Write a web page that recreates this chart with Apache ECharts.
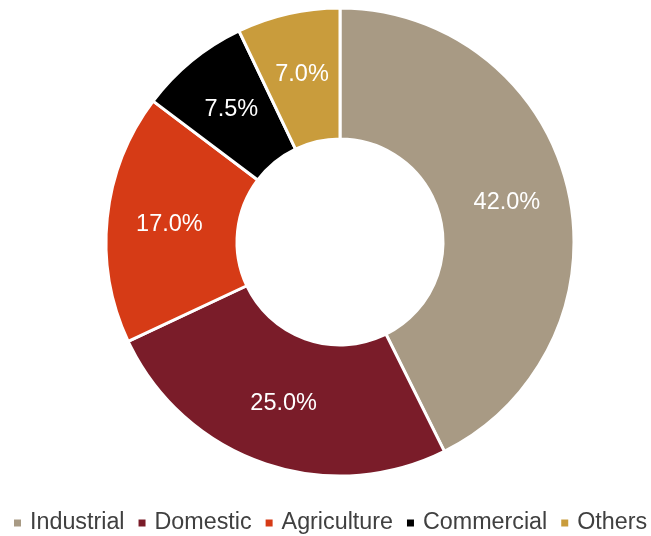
<!DOCTYPE html>
<html><head><meta charset="utf-8">
<script src="https://cdn.jsdelivr.net/npm/echarts@6/dist/echarts.min.js"></script>
<style>html,body{margin:0;padding:0;background:#fff}#c{width:651px;height:536px}</style>
</head><body><div id="c"></div>
<script>
const categories = ['Industrial','Domestic','Agriculture','Commercial','Others'];
const values = [42.0, 25.0, 17.0, 7.5, 7.0];
const colors = ['#A89A84','#7A1C29','#D63B16','#000000','#C99C3C'];
const chart = echarts.init(document.getElementById('c'), null, {renderer:'canvas'});
chart.setOption({
  animation:false,
  legend:{
    top:510, left:12, width:700, itemWidth:9, itemHeight:9, itemGap:12, icon:'rect', padding:0,
    textStyle:{fontFamily:'Liberation Sans, Arial', fontSize:23.3, lineHeight:26, color:'#404040', padding:[0,0,0,3]},
    data: categories
  },
  series:[{
    type:'pie', center:[340,242], radius:[103,234], startAngle:90, clockwise:true,
    itemStyle:{borderColor:'#fff', borderWidth:3},
    label:{position:'inside', color:'#fff', fontFamily:'Liberation Sans, Arial', fontSize:23.5,
      formatter:p=>p.value.toFixed(1)+'%'},
    labelLine:{show:false},
    data: categories.map((n,i)=>({name:n, value:values[i], itemStyle:{color:colors[i]}}))
  }]
});
</script></body></html>
